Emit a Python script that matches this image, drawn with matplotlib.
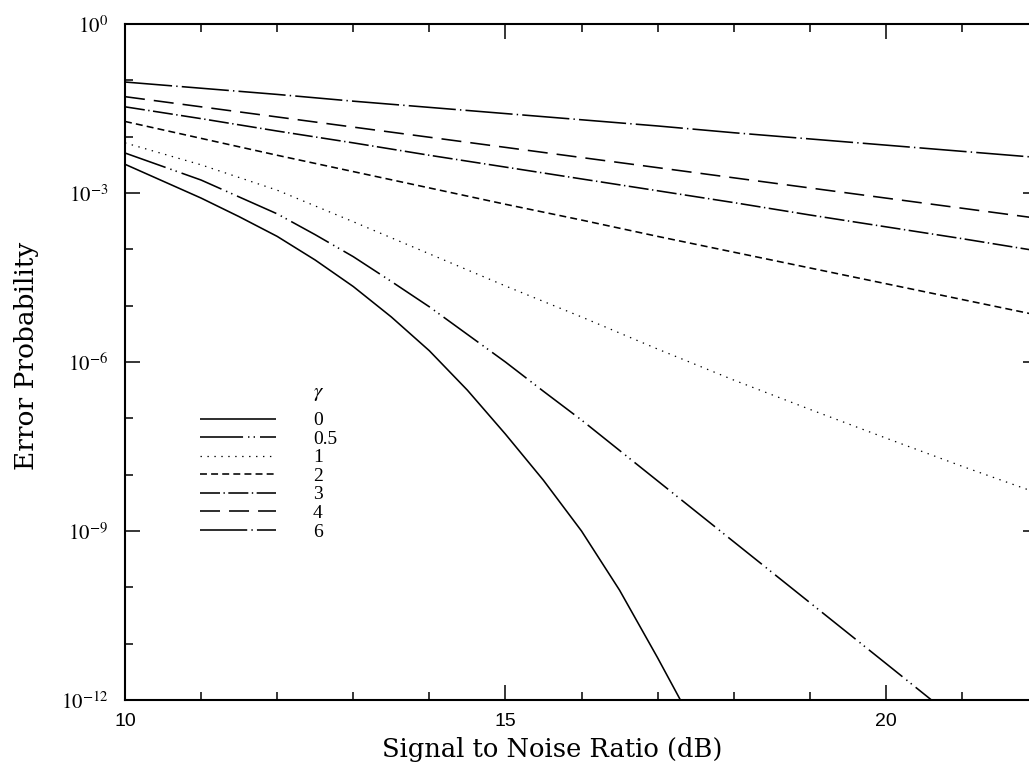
import numpy as np
import matplotlib
matplotlib.use("Agg")
import matplotlib.pyplot as plt
from matplotlib.ticker import FixedLocator, NullFormatter

plt.rcParams['mathtext.fontset'] = 'stix'
plt.rcParams['lines.scale_dashes'] = False

# Значения (log10 вероятности ошибки)
snr_db = [10, 11, 12, 13, 14, 15, 16, 17, 18, 19, 20, 21, 22]

snr_g0 = [10, 10.5, 11, 11.5, 12, 12.5, 13, 13.5, 14, 14.5, 15, 15.5, 16, 16.5, 17, 17.3]
log_pe_g0 = [-2.49, -2.79, -3.09, -3.42, -3.77, -4.19, -4.66, -5.20, -5.80, -6.50,
             -7.28, -8.10, -9.00, -10.05, -11.25, -12.0]

snr_g05 = [10, 10.5, 11, 11.5, 12, 12.5, 13, 13.5, 14, 14.5, 15, 15.5, 16, 16.5,
           17, 17.5, 18, 18.5, 19, 19.5, 20, 20.6]
log_pe_g05 = [-2.29, -2.53, -2.77, -3.07, -3.37, -3.74, -4.13, -4.57, -5.02, -5.51,
              -6.00, -6.52, -7.03, -7.57, -8.11, -8.65, -9.19, -9.73, -10.27, -10.81,
              -11.35, -12.0]

log_pe_g1 = [-2.11, -2.50, -2.95, -3.51, -4.08, -4.65, -5.20, -5.77, -6.32, -6.84, -7.35, -7.85, -8.33]
log_pe_g2 = [-1.73, -2.03, -2.33, -2.62, -2.91, -3.20, -3.48, -3.77, -4.05, -4.33, -4.61, -4.89, -5.17]
log_pe_g3 = [-1.47, -1.68, -1.90, -2.11, -2.33, -2.54, -2.75, -2.96, -3.17, -3.39, -3.60, -3.81, -4.03]
log_pe_g4 = [-1.29, -1.47, -1.65, -1.83, -2.01, -2.19, -2.37, -2.55, -2.73, -2.91, -3.09, -3.27, -3.45]
log_pe_g6 = [-1.03, -1.14, -1.25, -1.37, -1.48, -1.59, -1.70, -1.81, -1.93, -2.04, -2.15, -2.26, -2.37]

gamma_labels = ['0', '0.5', '1', '2', '3', '4', '6']
y_tick_exps = [0, -3, -6, -9, -12]

series = [
    (snr_g0, log_pe_g0, (0, ())),
    (snr_g05, log_pe_g05, (0, (31, 3.6, 1, 3, 1, 3.6))),
    (snr_db, log_pe_g1, (0, (1, 4))),
    (snr_db, log_pe_g2, (0, (5, 3))),
    (snr_db, log_pe_g3, (0, (14.4, 2.5, 1, 2.5))),
    (snr_db, log_pe_g4, (0, (14.4, 6.5))),
    (snr_db, log_pe_g6, (0, (34, 3, 1, 3))),
]

W, H = 1029, 777
fig = plt.figure(figsize=(W / 100, H / 100), dpi=100)
ax = fig.add_axes([125 / W, 77 / H, (1038 - 125) / W, (700 - 24) / H])

handles = []
for x, logy, ls in series:
    lw = 0.9 if ls == (0, (1, 4)) else 1.15
    line, = ax.plot(x, 10 ** np.array(logy), color='black', lw=lw, linestyle=ls)
    handles.append(line)

ax.set_yscale('log')
ax.set_xlim(10, 22)
ax.set_ylim(1e-12, 1)

# Деления
ax.xaxis.set_major_locator(FixedLocator([10, 15, 20]))
ax.xaxis.set_minor_locator(FixedLocator(np.arange(10, 23, 1)))
ax.yaxis.set_major_locator(FixedLocator([10.0 ** e for e in y_tick_exps]))
ax.yaxis.set_minor_locator(FixedLocator([10.0 ** e for e in range(-12, 1)]))
ax.yaxis.set_minor_formatter(NullFormatter())
ax.set_yticklabels([r'$10^{%d}$' % e for e in y_tick_exps], fontsize=15)
ax.set_xticklabels(['10', '15', '20'], fontsize=14, family='Liberation Sans')

ax.tick_params(which='both', direction='in', top=True, right=True, width=1.1, color='black')
ax.tick_params(which='major', length=11)
ax.tick_params(which='minor', length=6)
ax.tick_params(axis='y', pad=12)
ax.tick_params(axis='x', pad=9)
for s in ax.spines.values():
    s.set_linewidth(1.5)

fig.text(552 / W, 1 - 750 / H, 'Signal to Noise Ratio (dB)', ha='center', va='center',
         fontsize=18.5, family='DejaVu Serif')
fig.text(27 / W, 1 - 356 / H, 'Error Probability', ha='center', va='center',
         rotation=90, fontsize=19, family='DejaVu Serif')

leg = fig.legend(handles, gamma_labels, loc='upper left',
                 bbox_to_anchor=(200 / W, 1 - 412 / H), frameon=False,
                 borderpad=0, borderaxespad=0, handlelength=3.9, handletextpad=1.9,
                 labelspacing=0.08, handleheight=0.6,
                 prop={'family': 'Liberation Serif', 'size': 14})
fig.text(313 / W, 1 - 393 / H, r'$\gamma$', ha='left', va='center', fontsize=15)

fig.savefig('out.png', dpi=100)
